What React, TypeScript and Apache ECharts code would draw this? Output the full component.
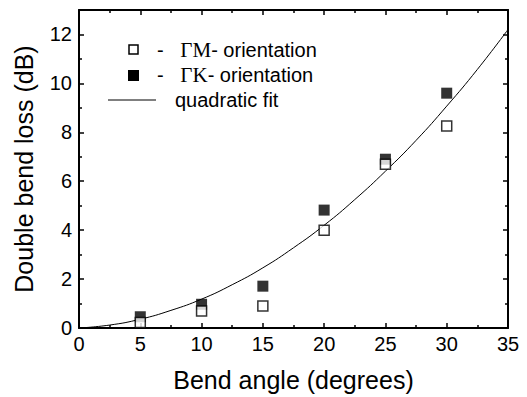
import React, { useEffect, useRef } from "react";
import * as echarts from "echarts";

const angles = [5, 10, 15, 20, 25, 30];
const gammaM = [0.22, 0.69, 0.9, 4.0, 6.69, 8.26];
const gammaK = [0.46, 0.97, 1.71, 4.82, 6.9, 9.6];
const fitX = [0, 2.5, 5, 7.5, 10, 12.5, 15, 17.5, 20, 22.5, 25, 27.5, 30, 32.5, 35];
const fitY = [0, 0.12, 0.36, 0.72, 1.18, 1.77, 2.46, 3.28, 4.2, 5.25, 6.41, 7.67, 9.07, 10.57, 12.2];
const legendLabels = ["ΓM", "ΓK", "quadratic fit"];

const SANS = "'Liberation Sans', Arial, sans-serif";
const SERIF = "'Liberation Serif', 'Times New Roman', serif";

export default function App() {
  const ref = useRef<HTMLDivElement>(null);
  useEffect(() => {
    if (!ref.current) return;
    const chart = echarts.init(ref.current, null, { renderer: "svg" });
    const axisCommon = {
      axisLine: { show: true, onZero: false, lineStyle: { color: "#000", width: 2 } },
      splitLine: { show: false },
    };
    const tick = { show: true, inside: true, length: 5, lineStyle: { color: "#000", width: 1.5 } };
    const minor = { show: true, splitNumber: 2, length: 3, lineStyle: { color: "#000", width: 1.5 } };
    chart.setOption({
      animation: false,
      backgroundColor: "#fff",
      grid: { left: 79, right: 19, top: 10, bottom: 69 },
      xAxis: [
        {
          type: "value",
          min: 0,
          max: 35,
          interval: 5,
          name: "Bend angle (degrees)",
          nameLocation: "middle",
          nameGap: 39,
          nameTextStyle: { fontFamily: SANS, fontSize: 25, color: "#000" },
          ...axisCommon,
          axisTick: tick,
          minorTick: minor,
          axisLabel: { fontFamily: SANS, fontSize: 20, color: "#000", margin: 6 },
        },
        {
          type: "value",
          position: "top",
          min: 0,
          max: 35,
          interval: 5,
          ...axisCommon,
          axisTick: tick,
          minorTick: minor,
          axisLabel: { show: false },
        },
      ],
      yAxis: [
        {
          type: "value",
          min: 0,
          max: 13,
          interval: 2,
          name: "Double bend loss (dB)",
          nameLocation: "middle",
          nameGap: 43,
          nameTextStyle: { fontFamily: SANS, fontSize: 25, color: "#000" },
          ...axisCommon,
          axisTick: tick,
          minorTick: minor,
          axisLabel: {
            fontFamily: SANS,
            fontSize: 20,
            color: "#000",
            margin: 7,
            showMaxLabel: false,
            formatter: (v: number) => (v % 2 === 0 ? String(v) : ""),
          },
        },
        {
          type: "value",
          position: "right",
          min: 0,
          max: 13,
          interval: 2,
          ...axisCommon,
          axisTick: tick,
          minorTick: minor,
          axisLabel: { show: false },
        },
      ],
      series: [
        {
          name: legendLabels[2],
          type: "line",
          data: fitX.map((x, i) => [x, fitY[i]]),
          smooth: true,
          showSymbol: false,
          symbol: "none",
          lineStyle: { color: "#000", width: 1 },
          z: 1,
        },
        {
          name: legendLabels[0],
          type: "scatter",
          data: angles.map((x, i) => [x, gammaM[i]]),
          symbol: "rect",
          symbolSize: 10,
          itemStyle: { color: "#fff", borderColor: "#000", borderWidth: 1.5 },
          z: 3,
        },
        {
          name: legendLabels[1],
          type: "scatter",
          data: angles.map((x, i) => [x, gammaK[i]]),
          symbol: "rect",
          symbolSize: 11,
          itemStyle: { color: "#000", borderColor: "#000", borderWidth: 0 },
          z: 2,
        },
      ],
      graphic: [
        { type: "rect", shape: { x: 129, y: 45, width: 9, height: 9 }, style: { fill: "#fff", stroke: "#000", lineWidth: 1.5 } },
        { type: "rect", shape: { x: 128, y: 70, width: 11, height: 11 }, style: { fill: "#000" } },
        { type: "line", shape: { x1: 108, y1: 100, x2: 156, y2: 100 }, style: { stroke: "#000", lineWidth: 1 } },
        {
          type: "text",
          x: 157,
          y: 50,
          style: {
            text: "-   {g|" + legendLabels[0] + "}- orientation",
            font: "20px " + SANS,
            fill: "#000",
            verticalAlign: "middle",
            rich: { g: { fontFamily: SERIF, fontSize: 21, fill: "#000" } },
          },
        },
        {
          type: "text",
          x: 157,
          y: 75,
          style: {
            text: "-   {g|" + legendLabels[1] + "}- orientation",
            font: "20px " + SANS,
            fill: "#000",
            verticalAlign: "middle",
            rich: { g: { fontFamily: SERIF, fontSize: 21, fill: "#000" } },
          },
        },
        {
          type: "text",
          x: 175,
          y: 100,
          style: {
            text: legendLabels[2],
            font: "20px " + SANS,
            fill: "#000",
            verticalAlign: "middle",
          },
        },
      ],
    });
    return () => chart.dispose();
  }, []);
  return <div ref={ref} style={{ width: 527, height: 397, position: "absolute", left: 0, top: 0 }} />;
}
